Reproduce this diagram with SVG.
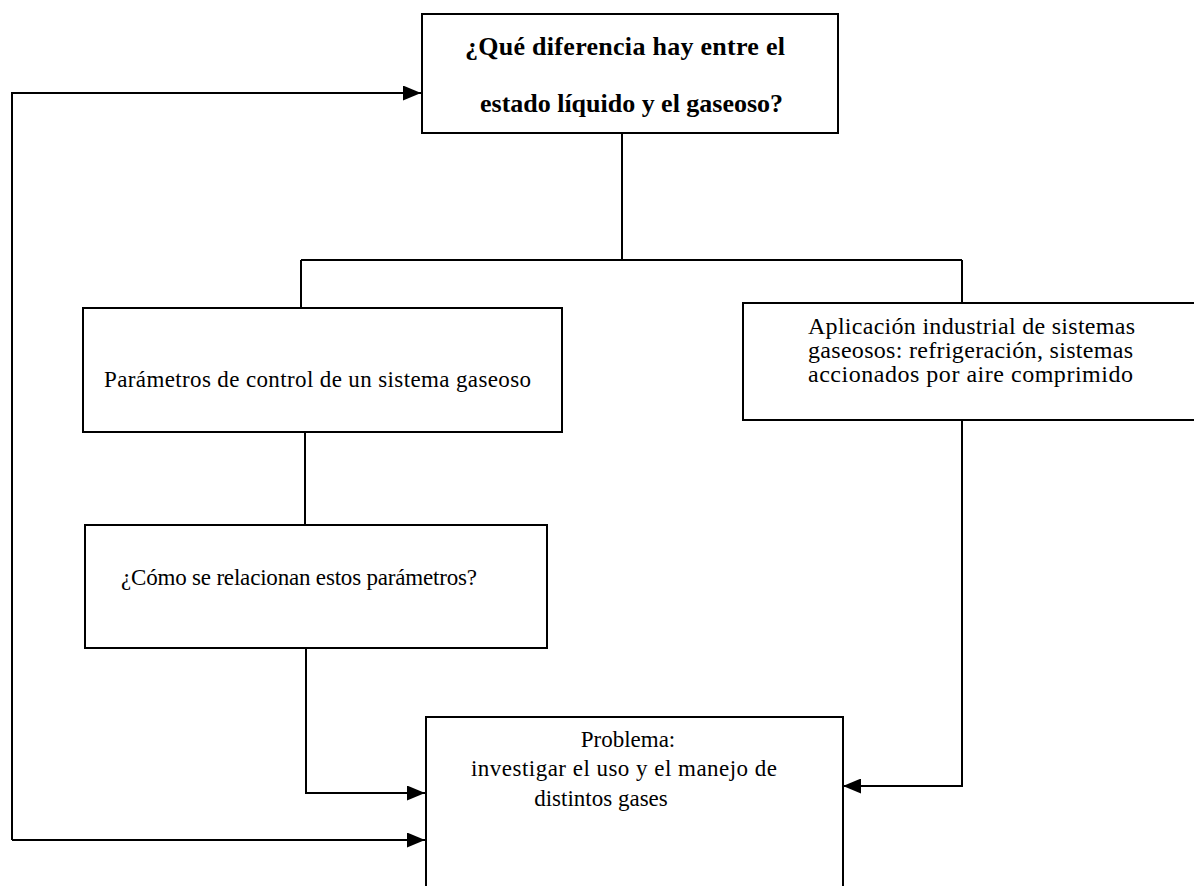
<svg xmlns="http://www.w3.org/2000/svg" width="1194" height="886" viewBox="0 0 1194 886">
<style>
.box{fill:#fff;stroke:#000;stroke-width:2}
.ln{fill:none;stroke:#000;stroke-width:2}
.t{font-family:"Liberation Serif","Times New Roman",serif;font-size:23px;fill:#000}
.tr{font-family:"Liberation Serif","Times New Roman",serif;font-size:24px;fill:#000}
.tb{font-family:"Liberation Serif","Times New Roman",serif;font-size:26px;font-weight:bold;fill:#000}
</style>
<defs>
<marker id="ah" markerWidth="18" markerHeight="15" refX="18" refY="7.5" orient="auto" markerUnits="userSpaceOnUse">
<path d="M0,0 L18,7.5 L0,15 Z" fill="#000"/>
</marker>
</defs>
<rect width="1194" height="886" fill="#fff"/>
<g id="connectors">
<path class="ln" d="M622,133 V260"/>
<path class="ln" d="M301,260 H962"/>
<path class="ln" d="M301,260 V308"/>
<path class="ln" d="M962,260 V303"/>
<path class="ln" d="M305,432 V525"/>
<path class="ln" d="M12,840 V93 H421" marker-end="url(#ah)"/>
<path class="ln" d="M12,840 H425" marker-end="url(#ah)"/>
<path class="ln" d="M306,648 V793 H425" marker-end="url(#ah)"/>
<path class="ln" d="M962,420 V786 H843" marker-end="url(#ah)"/>
</g>
<g id="n1">
<rect class="box" x="422" y="14" width="416" height="119"/>
<text class="tb" x="465" y="55" textLength="320">¿Qué diferencia hay entre el</text>
<text class="tb" x="480" y="112" textLength="303">estado líquido y el gaseoso?</text>
</g>
<g id="n2">
<rect class="box" x="83" y="308" width="479" height="124"/>
<text class="t" x="104" y="387" textLength="427">Parámetros de control de un sistema gaseoso</text>
</g>
<g id="n3">
<rect class="box" x="743" y="303" width="460" height="117"/>
<text class="tr" x="808" y="334" textLength="327">Aplicación industrial de sistemas</text>
<text class="tr" x="808" y="358" textLength="325">gaseosos: refrigeración, sistemas</text>
<text class="tr" x="808" y="382" textLength="325">accionados  por aire comprimido</text>
</g>
<g id="n4">
<rect class="box" x="85" y="525" width="462" height="123"/>
<text class="t" x="121" y="585" textLength="356">¿Cómo se relacionan estos parámetros?</text>
</g>
<g id="n5">
<rect class="box" x="426" y="717" width="417" height="175"/>
<text class="t" x="628" y="747" text-anchor="middle">Problema:</text>
<text class="t" x="471" y="776" textLength="306">investigar el uso y el manejo de</text>
<text class="t" x="601" y="806" text-anchor="middle">distintos gases</text>
</g>
</svg>
